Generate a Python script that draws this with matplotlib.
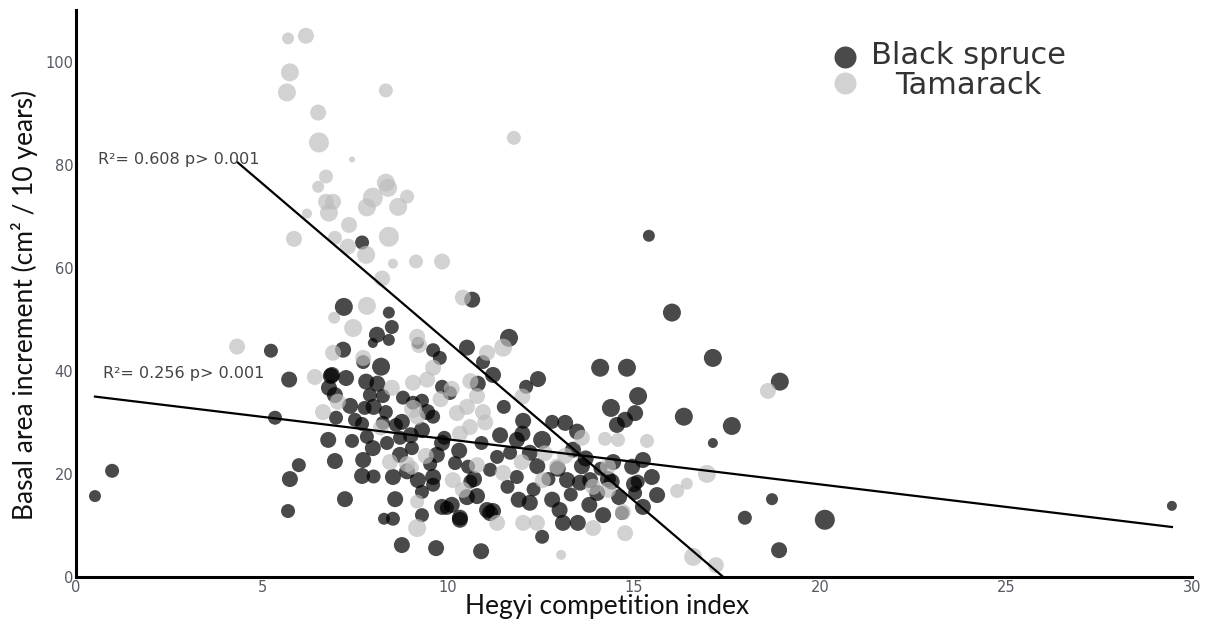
import matplotlib
matplotlib.use("Agg")
import matplotlib.pyplot as plt
import numpy as np

# ---------------- data ----------------
# Black spruce: Hegyi index, basal area increment, relative tree size
bs_x = [0.51, 0.97, 5.24, 5.73, 5.35, 5.75, 5.99, 5.70, 7.23, 7.20,
        7.69, 8.41, 8.49, 8.09, 8.41, 7.98, 9.19, 9.78, 10.51, 10.65,
        7.18, 7.72, 8.20, 6.88, 7.26, 7.80, 6.80, 6.96, 6.99, 8.25,
        7.90, 8.79, 9.84, 10.05, 9.44, 9.60, 9.30, 7.69, 7.42, 7.82,
        7.98, 7.72, 8.36, 8.71, 8.71, 9.03, 8.52, 9.19, 9.60, 9.70,
        9.52, 10.19, 10.54, 10.51, 10.78, 11.05, 10.32, 9.97, 8.58, 9.30,
        9.60, 8.28, 8.52, 8.76, 9.68, 10.89,
        11.64, 10.94, 11.21, 12.42, 12.10, 12.02, 12.80, 13.15, 13.47, 11.85,
        12.53, 12.20, 11.67, 13.36, 14.44, 14.95, 15.24, 15.48, 15.62, 15.24,
        15.03, 13.82, 13.55, 14.01, 13.20, 12.80, 12.20, 11.85, 11.13, 11.32,
        11.13, 10.32, 13.09, 13.49, 14.17, 14.68, 12.53,
        14.09, 14.81, 15.11, 14.38, 15.03, 14.76, 14.54, 16.34, 17.63, 17.12,
        15.40, 16.02, 17.12, 18.92, 17.98, 18.71, 18.90, 20.13, 29.46,
        8.33, 9.06, 6.85, 7.37, 7.76, 6.78, 6.96, 8.25, 8.76, 9.30,
        9.84, 7.69, 9.84, 11.21, 10.70, 12.95, 14.30, 15.00, 12.00, 13.70,
        8.00, 8.60, 9.00, 9.90, 10.30, 10.90, 11.40, 11.60, 12.40, 12.70,
        13.00, 13.30, 13.80, 14.40, 14.10, 14.60, 15.10, 13.60, 12.30, 11.90,
        10.60, 10.10, 9.30, 8.90, 8.00, 7.50, 8.10, 9.60, 10.80, 11.50]
bs_y = [15.7, 20.6, 43.9, 38.3, 30.9, 19.0, 21.7, 12.8, 15.1, 52.4,
        64.9, 51.3, 48.5, 47.0, 46.0, 45.4, 45.4, 42.5, 44.5, 53.8,
        44.1, 41.7, 40.8, 39.2, 38.6, 37.9, 36.7, 35.3, 30.9, 35.1,
        35.3, 34.8, 36.9, 35.7, 32.0, 31.1, 28.5, 29.7, 26.4, 27.2,
        25.0, 22.7, 26.0, 27.0, 23.7, 25.0, 19.4, 18.8, 19.4, 23.7,
        21.9, 22.1, 21.4, 15.5, 15.7, 13.0, 11.5, 13.4, 15.1, 16.5,
        17.9, 11.3, 11.3, 6.2, 5.6, 5.0,
        46.4, 41.7, 39.2, 38.4, 36.9, 30.3, 30.1, 29.9, 28.2, 26.6,
        26.6, 24.1, 24.1, 24.7, 22.3, 21.4, 22.7, 19.4, 15.9, 13.6,
        16.3, 18.8, 18.3, 16.3, 18.8, 15.0, 14.4, 19.4, 20.8, 23.3,
        12.4, 11.1, 10.5, 10.5, 12.0, 12.4, 7.8,
        40.6, 40.6, 35.1, 32.8, 31.8, 30.5, 29.5, 31.1, 29.3, 26.0,
        66.2, 51.3, 42.5, 37.9, 11.5, 15.1, 5.2, 11.1, 13.8,
        32.0, 33.8, 39.0, 33.2, 32.8, 26.6, 22.5, 29.9, 30.1, 34.2,
        26.0, 19.6, 13.6, 12.8, 19.0, 21.0, 19.0, 18.0, 27.8, 23.0,
        33.0, 29.5, 27.5, 27.0, 24.5, 26.0, 27.5, 17.5, 21.5, 19.0,
        13.0, 16.0, 14.0, 18.5, 21.0, 15.5, 18.5, 21.5, 17.0, 15.0,
        18.5, 14.0, 12.0, 20.5, 19.5, 30.5, 37.5, 44.0, 37.5, 33.0]
bs_size = [6, 7, 7, 8, 7, 8, 7, 7, 8, 9,
           7, 6, 7, 8, 6, 5, 6, 7, 8, 8,
           8, 7, 9, 8, 8, 8, 8, 8, 7, 7,
           7, 7, 7, 7, 8, 7, 8, 7, 7, 7,
           8, 8, 7, 7, 8, 7, 8, 8, 8, 8,
           7, 7, 7, 8, 8, 8, 8, 7, 8, 7,
           7, 6, 7, 8, 8, 8,
           9, 7, 8, 8, 7, 8, 7, 8, 8, 8,
           9, 8, 7, 8, 8, 8, 8, 8, 8, 8,
           7, 8, 8, 8, 8, 8, 8, 7, 7, 7,
           8, 8, 8, 8, 8, 7, 7,
           9, 9, 9, 9, 8, 8, 8, 9, 9, 5,
           6, 9, 9, 9, 7, 6, 8, 10, 5,
           7, 7, 8, 8, 7, 8, 8, 7, 8, 7,
           8, 8, 8, 8, 8, 8, 8, 8, 8, 8,
           8, 7, 8, 7, 8, 7, 8, 7, 8, 7,
           8, 7, 8, 8, 7, 8, 7, 8, 7, 8,
           7, 8, 7, 8, 7, 7, 8, 7, 8, 7]

# Tamarack
tm_x = [5.70, 6.18, 5.75, 5.67, 6.51, 6.53, 8.33, 7.42, 11.77, 6.72,
        6.51, 6.72, 6.91, 6.80, 6.21, 7.34, 5.86, 6.96, 7.31, 7.80,
        8.41, 8.52, 9.14, 9.84, 8.23, 7.98, 7.82, 8.33, 8.39, 8.66,
        8.90, 10.40, 7.82, 6.94, 7.45, 4.33, 6.42, 6.64, 6.91, 7.72,
        9.17, 9.22, 11.05, 11.48, 7.04, 8.49, 9.06, 9.44, 9.60, 9.06,
        9.17, 10.24, 10.51, 10.78, 10.94, 10.32, 10.59, 8.44, 8.90, 9.03,
        10.13, 10.40, 10.78, 9.17, 9.17, 11.32, 12.02, 11.48, 11.98, 12.55,
        13.60, 12.39, 13.90, 14.76, 13.04, 14.22, 14.57, 15.35, 14.30, 14.30,
        14.70, 16.96, 16.42, 16.16, 18.60, 16.59, 17.20, 12.93, 13.15,
        9.80, 10.10, 10.60, 11.00, 12.00, 12.60, 13.90, 9.40, 8.20]
tm_y = [104.5, 105.0, 97.9, 94.0, 90.1, 84.3, 94.4, 81.0, 85.2, 77.7,
        75.7, 72.8, 72.8, 70.7, 70.5, 68.3, 65.6, 65.8, 64.1, 62.5,
        66.0, 60.8, 61.2, 61.2, 57.9, 73.6, 71.7, 76.5, 75.5, 71.8,
        73.8, 54.2, 52.6, 50.3, 48.3, 44.7, 38.8, 32.0, 43.5, 42.5,
        46.6, 45.0, 43.5, 44.5, 34.0, 36.7, 37.7, 38.3, 40.6, 32.6,
        31.1, 31.8, 33.0, 35.1, 32.0, 27.8, 29.1, 22.3, 21.9, 21.2,
        18.8, 16.9, 21.7, 14.6, 9.5, 10.5, 10.5, 20.2, 22.3, 18.8,
        27.0, 10.5, 9.5, 8.5, 4.3, 26.8, 26.6, 26.4, 21.4, 16.9,
        12.6, 20.0, 18.1, 16.7, 36.1, 3.9, 2.3, 21.4, 23.5,
        34.5, 36.5, 38.0, 30.0, 35.0, 24.0, 17.5, 23.5, 29.0]
tm_size = [6, 8, 9, 9, 8, 10, 7, 3, 7, 7,
           6, 8, 8, 9, 5, 8, 8, 7, 8, 9,
           10, 5, 7, 8, 8, 10, 9, 9, 9, 9,
           7, 8, 9, 6, 9, 8, 8, 8, 8, 8,
           8, 8, 8, 9, 8, 8, 8, 8, 8, 9,
           8, 8, 8, 8, 8, 8, 8, 8, 8, 7,
           8, 8, 8, 7, 9, 8, 8, 8, 8, 8,
           8, 8, 8, 8, 5, 7, 7, 7, 8, 8,
           8, 9, 6, 7, 8, 9, 8, 8, 8,
           8, 8, 8, 8, 8, 8, 8, 8, 8]

# regression lines (start/end of fitted segments)
fit_tm_x = [4.35, 17.4]
fit_tm_y = [80.4, 0.0]
fit_bs_x = [0.51, 29.46]
fit_bs_y = [35.0, 9.7]

species = ["Black spruce", "Tamarack"]
ann_text = ["R²= 0.608 p> 0.001", "R²= 0.256 p> 0.001"]
ann_x = [0.6, 0.73]
ann_y = [81.0, 39.5]

# ---------------- figure ----------------
W, H, DPI = 1206, 624, 100
fig = plt.figure(figsize=(W / DPI, H / DPI), dpi=DPI)
ax = fig.add_axes([76 / W, 47 / H, 1116 / W, 567 / H])
ax.set_xlim(0, 30)
ax.set_ylim(0, 110)


def area(r):
    return (2 * np.asarray(r, dtype=float) * 72 / DPI) ** 2


ax.scatter(bs_x, bs_y, s=area(bs_size), color="black", alpha=0.71,
           linewidths=0, clip_on=False, zorder=2)
ax.scatter(tm_x, tm_y, s=area(tm_size), color=(0.74, 0.74, 0.74), alpha=0.68,
           linewidths=0, clip_on=False, zorder=3)

ax.plot(fit_tm_x, fit_tm_y, color="black", lw=1.6, zorder=4, clip_on=False)
ax.plot(fit_bs_x, fit_bs_y, color="black", lw=1.6, zorder=4, clip_on=False)

for t, xx, yy in zip(ann_text, ann_x, ann_y):
    ax.text(xx, yy, t, fontsize=11.5, color="#444444", ha="left", va="center",
            family="DejaVu Sans", zorder=5)

for s in ["top", "right"]:
    ax.spines[s].set_visible(False)
for s in ["left", "bottom"]:
    ax.spines[s].set_linewidth(2.2)
    ax.spines[s].set_color("black")

ax.set_xticks([0, 5, 10, 15, 20, 25, 30])
ax.set_yticks([0, 20, 40, 60, 80, 100])
ax.tick_params(length=0, labelsize=10.5, colors="#555a62", pad=2)

ax.set_xlabel("Hegyi competition index", fontsize=19, family="Lato",
              color="#111111")
ax.set_ylabel("Basal area increment (cm² / 10 years)", fontsize=19,
              family="Lato", color="#111111")
ax.xaxis.set_label_coords((607 - 76) / 1116, -17 / 567)
ax.yaxis.set_label_coords(-38 / 1116, (577 - 305) / 567)

# legend drawn in axes coordinates
ax.scatter([0.689], [0.917], s=area(11), color="black", alpha=0.71,
           linewidths=0, transform=ax.transAxes, clip_on=False, zorder=6)
ax.scatter([0.689], [0.871], s=area(11), color=(0.74, 0.74, 0.74), alpha=0.68,
           linewidths=0, transform=ax.transAxes, clip_on=False, zorder=6)
ax.text(0.800, 0.919, species[0], transform=ax.transAxes, fontsize=22,
        color="#333333", ha="center", va="center", family="DejaVu Sans", zorder=7)
ax.text(0.800, 0.866, species[1], transform=ax.transAxes, fontsize=22,
        color="#333333", ha="center", va="center", family="DejaVu Sans", zorder=7)

fig.savefig("out.png", dpi=DPI)
